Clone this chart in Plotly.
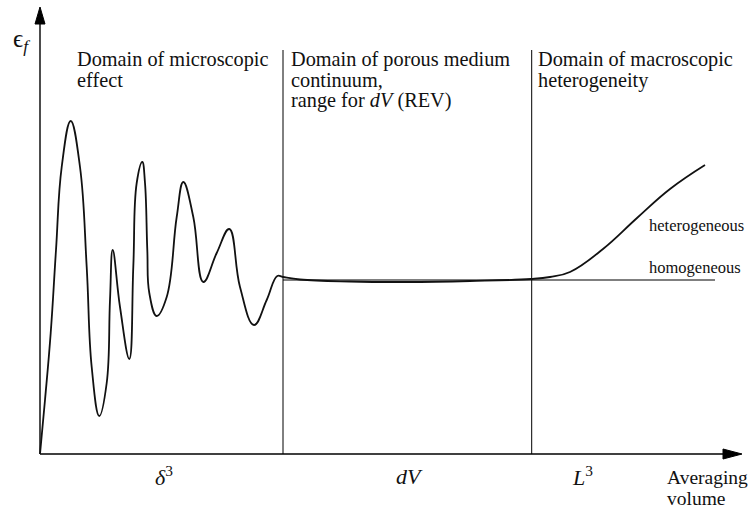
import plotly.graph_objects as go

# ---- data (schematic units: averaging volume vs porosity) ----
curve_x = [0, 5, 10.7, 16, 21.7, 30.7, 40, 46.7, 51.7, 59.3, 66.7, 70, 72.7, 80, 89.3,
           93.3, 96.7, 102.3, 105, 107.3, 109.3, 116.7, 126.7, 136.7, 143.3, 153.3, 163.3,
           176.7, 189.3, 200, 214, 226.7, 237.3, 243, 260, 310, 367, 430, 491,
           510, 530, 563, 597, 630, 665]
curve_y = [0, 54, 121, 204, 287, 333, 287, 187, 87, 38, 71, 154, 204, 147, 95,
           187, 271, 292, 271, 204, 161, 138, 157, 237, 272, 237, 172,
           201, 225, 167, 129, 154, 178, 177, 174.5, 172.5, 172, 173, 175,
           177, 182, 205, 236, 265, 289]

homog_x = [243, 675]
homog_y = [174, 174]

boundaries_x = [243, 491.7]       # delta^3 / L^3 limits of REV range
boundary_top = 404

x_axis_end = 702
y_axis_end = 447

# domain header lines: (text, x, y)
domain_lines = [
    ("Domain of microscopic", 35, 394.5), ("effect", 35, 374),
    ("Domain of porous medium", 249, 394.5), ("continuum,", 249, 374),
    ("range for <i>dV</i> (REV)", 249, 353.5),
    ("Domain of macroscopic", 496, 394.5), ("heterogeneity", 496, 374),
]

scale_labels = ["<i>δ</i><sup>3</sup>", "<i>dV</i>", "<i>L</i><sup>3</sup>"]
scale_label_x = [124, 369, 542]

FONT = "Liberation Serif"

fig = go.Figure()

# axes
fig.add_trace(go.Scatter(x=[0, x_axis_end - 18], y=[0, 0], mode="lines",
                         line=dict(color="black", width=1.4), hoverinfo="skip"))
fig.add_trace(go.Scatter(x=[0, 0], y=[0, y_axis_end - 16], mode="lines",
                         line=dict(color="black", width=1.4), hoverinfo="skip"))
# arrowheads
fig.add_trace(go.Scatter(x=[x_axis_end, x_axis_end - 19, x_axis_end - 19, x_axis_end],
                         y=[0, 5, -5, 0], mode="lines", fill="toself",
                         fillcolor="black", line=dict(color="black", width=1), hoverinfo="skip"))
fig.add_trace(go.Scatter(x=[0, -5, 5, 0],
                         y=[y_axis_end, y_axis_end - 17, y_axis_end - 17, y_axis_end],
                         mode="lines", fill="toself",
                         fillcolor="black", line=dict(color="black", width=1), hoverinfo="skip"))

# domain boundaries
for bx in boundaries_x:
    fig.add_trace(go.Scatter(x=[bx, bx], y=[0, boundary_top], mode="lines",
                             line=dict(color="black", width=1), hoverinfo="skip"))

# homogeneous line
fig.add_trace(go.Scatter(x=homog_x, y=homog_y, mode="lines",
                         line=dict(color="black", width=1.2), hoverinfo="skip"))

# porosity curve
fig.add_trace(go.Scatter(x=curve_x, y=curve_y, mode="lines",
                         line=dict(color="#111111", width=1.8, shape="spline", smoothing=1.2),
                         hoverinfo="skip"))

ann = []
for t, x, y in domain_lines:
    ann.append(dict(x=x, y=y, text=t, xanchor="left", yanchor="middle", align="left",
                    showarrow=False, font=dict(family=FONT, size=20.3, color="#111")))
for t, x in zip(scale_labels, scale_label_x):
    ann.append(dict(x=x, y=-22, text=t, xanchor="center", yanchor="middle",
                    showarrow=False, font=dict(family=FONT, size=22, color="#111")))
ann.append(dict(x=625, y=-23, text="Averaging", xanchor="left", yanchor="middle",
                showarrow=False, font=dict(family=FONT, size=19.5, color="#111")))
ann.append(dict(x=625, y=-44, text="volume", xanchor="left", yanchor="middle",
                showarrow=False, font=dict(family=FONT, size=19.5, color="#111")))
ann.append(dict(x=706, y=229, text="heterogeneous", xanchor="right", yanchor="middle",
                showarrow=False, font=dict(family=FONT, size=16.5, color="#111")))
ann.append(dict(x=703, y=187, text="homogeneous", xanchor="right", yanchor="middle",
                showarrow=False, font=dict(family=FONT, size=16.5, color="#111")))
ann.append(dict(x=-19, y=414, text="ϵ<sub><i>f</i></sub>", xanchor="center", yanchor="middle",
                showarrow=False, font=dict(family=FONT, size=25, color="#111")))

fig.update_layout(
    width=752, height=509, margin=dict(l=0, r=0, t=0, b=0),
    paper_bgcolor="white", plot_bgcolor="white", showlegend=False,
    xaxis=dict(range=[-40, 712], visible=False, fixedrange=True),
    yaxis=dict(range=[-55, 454], visible=False, fixedrange=True),
    annotations=ann,
)

fig.write_html("out.html")
